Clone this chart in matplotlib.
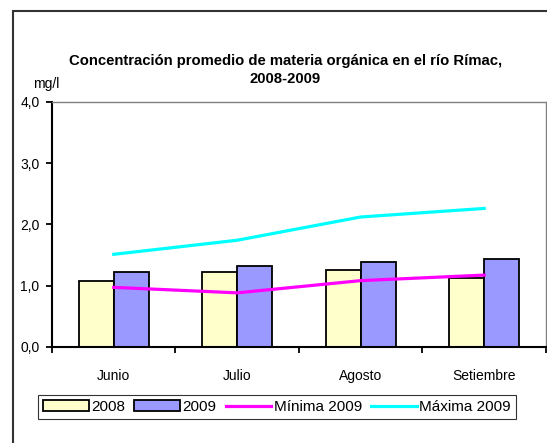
import numpy as np
import matplotlib.pyplot as plt
from matplotlib.patches import Rectangle

plt.rcParams['font.family'] = ['Liberation Sans', 'DejaVu Sans']

# Months
months = ["Junio", "Julio", "Agosto", "Setiembre"]

# Average organic matter concentration (mg/l)
conc_2008 = [1.08, 1.22, 1.26, 1.12]
conc_2009 = [1.22, 1.32, 1.39, 1.44]
min_2009 = [0.97, 0.88, 1.08, 1.17]
max_2009 = [1.51, 1.74, 2.12, 2.26]

fig = plt.figure(figsize=(5.47, 4.43), dpi=100)
ax = fig.add_axes([0.0951, 0.2174, 0.9029, 0.5524])

# outer chart frame
fig.patches.append(Rectangle((13 / 547, -0.05), 1.1, 1 - 11 / 443 + 0.05, transform=fig.transFigure,
                             fill=False, edgecolor='#333333', linewidth=1.5))

x = np.arange(len(months))
bar_width = 0.285

b1 = ax.bar(x - bar_width / 2, conc_2008, width=bar_width, color='#FFFFCC', edgecolor='black', linewidth=1.3, label='2008', zorder=2)
b2 = ax.bar(x + bar_width / 2, conc_2009, width=bar_width, color='#9999FF', edgecolor='black', linewidth=1.3, label='2009', zorder=2)
l1, = ax.plot(x, min_2009, color='#FF00FF', linewidth=2.3, label='Mínima 2009', zorder=3)
l2, = ax.plot(x, max_2009, color='#00FFFF', linewidth=2.3, label='Máxima 2009', zorder=3)

ax.set_xlim(-0.5, len(months) - 0.5)
ax.set_ylim(0, 4)

# ticks
ax.set_yticks([0, 1, 2, 3, 4])
ax.set_yticklabels(["0,0", "1,0", "2,0", "3,0", "4,0"], fontsize=10)
ax.set_xticks(np.arange(-0.5, len(months)), [""] * (len(months) + 1))
ax.set_xticks(x, months, minor=True, fontsize=10)
ax.tick_params(axis='x', which='major', direction='out', length=4, width=1.3)
ax.tick_params(axis='x', which='minor', length=0, pad=16)
ax.tick_params(axis='y', direction='out', length=4, width=1.3, pad=5)

for s in ['left', 'bottom']:
    ax.spines[s].set_linewidth(1.5)
    ax.spines[s].set_color('black')
for s in ['top', 'right']:
    ax.spines[s].set_linewidth(1.0)
    ax.spines[s].set_color('#808080')

fig.text(0.522, 1 - 70 / 443, "Concentración promedio de materia orgánica en el río Rímac,\n2008-2009",
         ha='center', va='center', fontsize=10.7, fontweight='bold', linespacing=1.3)
fig.text(33 / 547, 1 - 84 / 443, "mg/l", ha='left', va='center', fontsize=10)

leg = fig.legend([b1, b2, l1, l2], ['2008', '2009', 'Mínima 2009', 'Máxima 2009'],
                 loc='center', bbox_to_anchor=(277 / 547, 1 - 407 / 443), ncol=4, fontsize=11,
                 frameon=True, fancybox=False, edgecolor='black', handlelength=3.0,
                 handletextpad=0.15, columnspacing=0.6, borderpad=0.3)
leg.get_frame().set_linewidth(0.8)

plt.savefig("out.png", dpi=100)
